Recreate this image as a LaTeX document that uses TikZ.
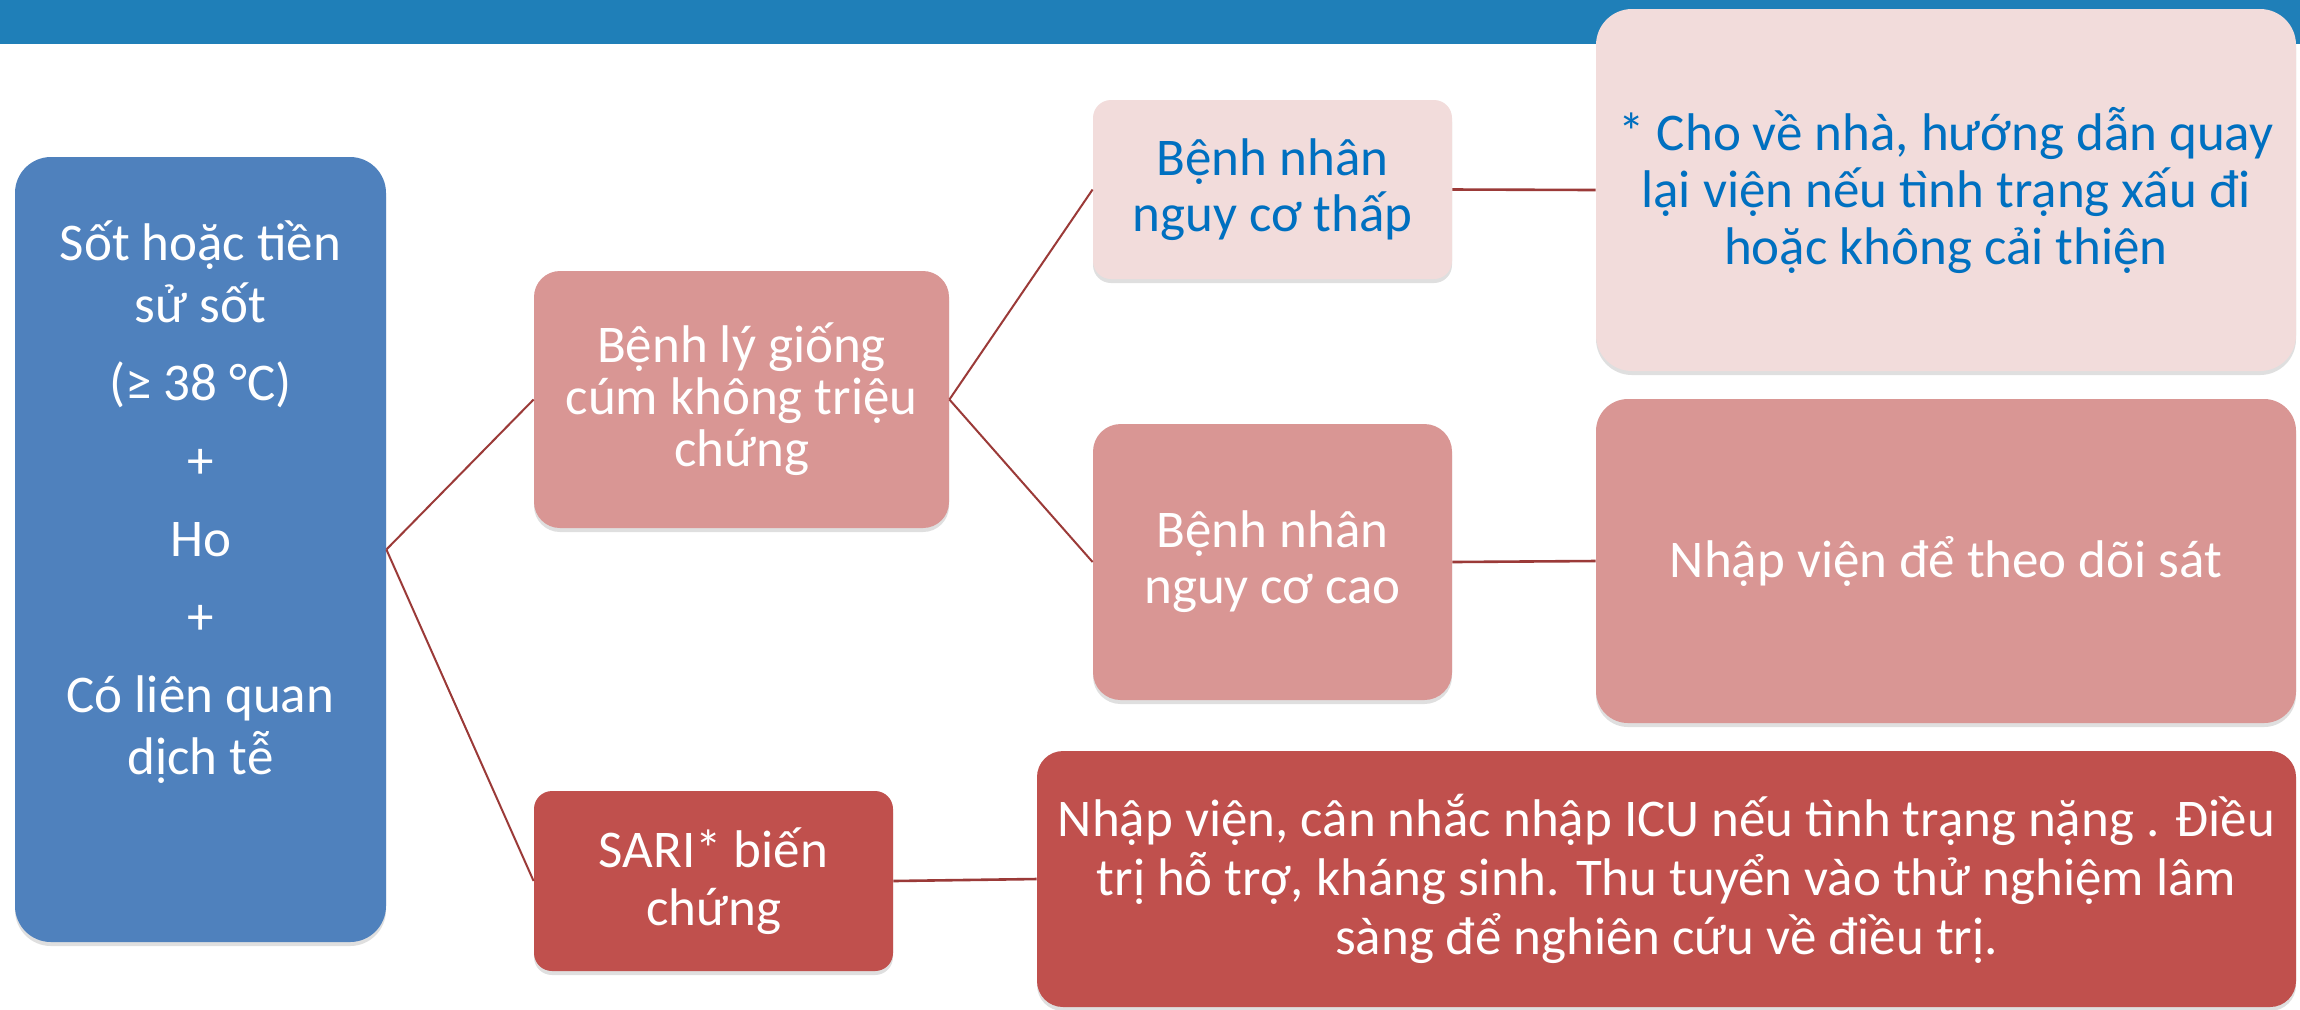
\documentclass[tikz,border=0pt]{standalone}
\usepackage{fontspec}
\setmainfont{Carlito}
\usetikzlibrary{shadows}
\definecolor{band}{HTML}{1F7FB8}
\definecolor{blueA}{HTML}{4F81BD}
\definecolor{roseM}{HTML}{D99694}
\definecolor{roseL}{HTML}{F2DCDB}
\definecolor{redD}{HTML}{C0504D}
\definecolor{txtblue}{HTML}{0070C0}
\definecolor{linkc}{HTML}{9B3A38}
\tikzset{
  box/.style={rectangle, draw=none, align=center, inner sep=0pt,
    drop shadow={shadow xshift=0pt, shadow yshift=-2pt, opacity=0.25}},
  linkline/.style={draw=linkc, line width=1pt},
  hlinkline/.style={draw=linkc, line width=1.3pt},
}
\begin{document}
\begin{tikzpicture}[x=0.5pt, y=-0.5pt]
\useasboundingbox (0,0) rectangle (2300,1009);
\fill[white] (0,0) rectangle (2300,1009);
\fill[band] (0,0) rectangle (2300,44);

\node[box, fill=blueA, minimum width=185.5pt, minimum height=392.5pt, rounded corners=18pt] (left) at (200.5,549.5) {};
\node[align=center, text=white, font=\fontsize{26.5}{31}\selectfont] (lefttxt) at (200.5,502)
 {Sốt hoặc tiền\\sử sốt\\[8pt](≥ 38 °C)\\[8pt]+\\[8pt]Ho\\[8pt]+\\[8pt]Có liên quan\\dịch tễ};

\node[box, fill=roseM, text=white, minimum width=207.5pt, minimum height=128.5pt, rounded corners=13pt,
  font=\fontsize{26.5}{26}\selectfont] (lyb) at (741.5,399.5) {Bệnh lý giống\\cúm không triệu\\chứng};

\node[box, fill=redD, text=white, minimum width=179.5pt, minimum height=90pt, rounded corners=9pt,
  font=\fontsize{26.5}{29}\selectfont] (sari) at (713.5,881) {SARI* biến\\chứng};

\node[box, fill=roseL, text=txtblue, minimum width=179.5pt, minimum height=89.5pt, rounded corners=9pt,
  font=\fontsize{26.5}{28}\selectfont] (thap) at (1272.5,189.5) {Bệnh nhân\\nguy cơ thấp};

\node[box, fill=roseM, text=white, minimum width=179.5pt, minimum height=138pt, rounded corners=13.8pt,
  font=\fontsize{26.5}{28}\selectfont] (cao) at (1272.5,562) {Bệnh nhân\\nguy cơ cao};

\node[box, fill=roseL, text=txtblue, minimum width=350pt, minimum height=181pt, rounded corners=18pt,
  font=\fontsize{26.5}{28.5}\selectfont] (home) at (1946,190)
  {* Cho về nhà, hướng dẫn quay\\lại viện nếu tình trạng xấu đi\\hoặc không cải thiện};

\node[box, fill=roseM, text=white, minimum width=350pt, minimum height=162pt, rounded corners=16pt,
  font=\fontsize{26.5}{28.5}\selectfont] (adm) at (1946,561) {Nhập viện để theo dõi sát};

\node[box, fill=redD, text=white, minimum width=629.5pt, minimum height=128pt, rounded corners=13pt,
  font=\fontsize{26.5}{29.5}\selectfont] (big) at (1666.5,879)
  {Nhập viện, cân nhắc nhập ICU nếu tình trạng nặng . Điều\\trị hỗ trợ, kháng sinh. Thu tuyển vào thử nghiệm lâm\\sàng để nghiên cứu về điều trị.};

\draw[linkline] (left.east) -- (lyb.west);
\draw[linkline] (left.east) -- (sari.west);
\draw[linkline] (lyb.east) -- (thap.west);
\draw[linkline] (lyb.east) -- (cao.west);
\draw[hlinkline] (thap.east) -- (home.west);
\draw[hlinkline] (cao.east) -- (adm.west);
\draw[hlinkline] (sari.east) -- (big.west);
\end{tikzpicture}
\end{document}
